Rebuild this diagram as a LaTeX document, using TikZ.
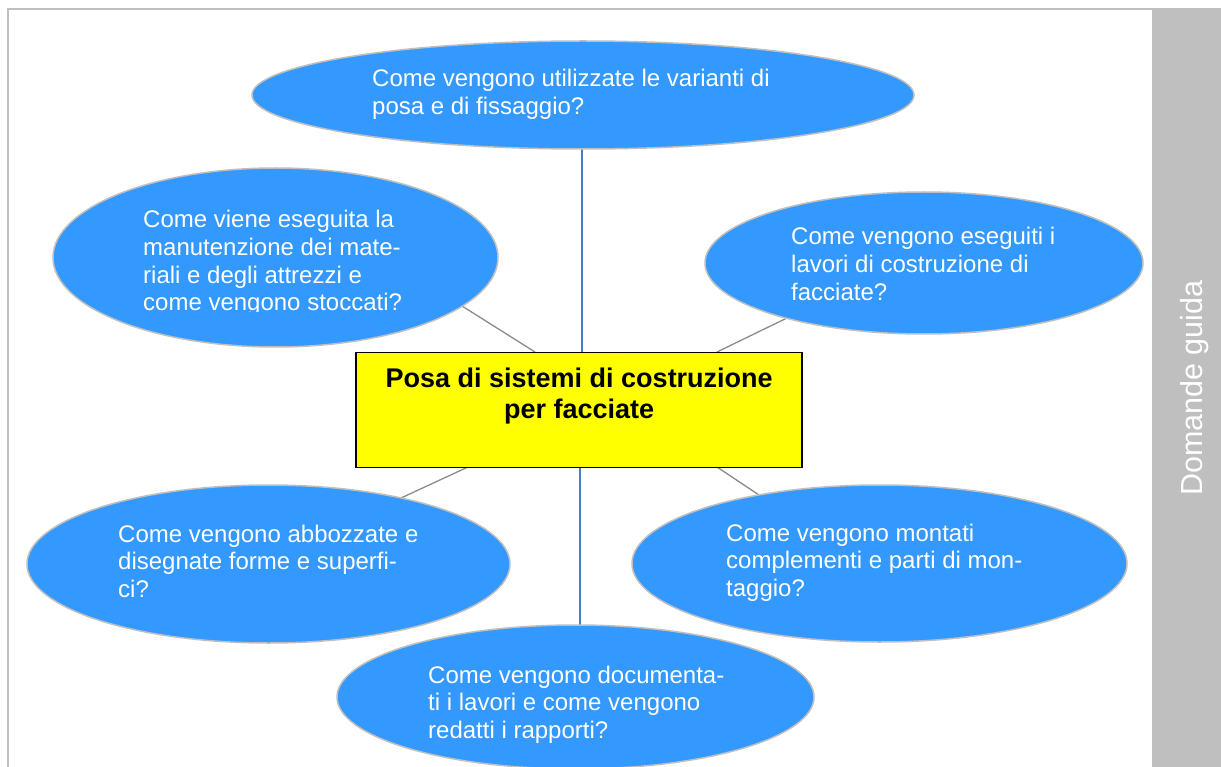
\documentclass[tikz,border=0pt]{standalone}
\usepackage{fontspec}
\setmainfont{Liberation Sans}
\usetikzlibrary{shapes.geometric}
\definecolor{ellfill}{HTML}{3399FF}
\definecolor{ellline}{HTML}{BFBFBF}
\definecolor{framegray}{HTML}{BFBFBF}
\definecolor{vline}{HTML}{4A7EBB}
\definecolor{dline}{HTML}{8C8C8C}
\definecolor{yel}{HTML}{FFFF00}
\newcommand\qlines[1]{\vtop{\baselineskip=27.6pt\lineskiplimit=-20pt #1}}
\begin{document}
\begin{tikzpicture}[x=1pt,y=-1pt,
  qell/.style={ellipse,draw=ellline,line width=1.5pt,fill=ellfill,inner sep=0pt},
  qtext/.style={anchor=base west,inner sep=0pt,text=white,font=\fontsize{24}{27.6}\selectfont},
  vconn/.style={draw=vline,line width=1.3pt},
  dconn/.style={draw=dline,line width=1.3pt},
  mainbox/.style={rectangle,draw=black,line width=1.5pt,fill=yel,inner sep=0pt}]
\useasboundingbox (0,0) rectangle (1221,767);
\fill[white] (0,0) rectangle (1221,767);
% frame and side bar
\draw[framegray,line width=2.2pt] (1152,9) -- (8,9) -- (8,767);
\fill[framegray] (1152,8) rectangle (1221,767);
\node[anchor=base,rotate=90,text=white,inner sep=0pt,font=\fontsize{30.5}{34}\selectfont] (side) at (1202,388) {Domande guida};
% connector coordinates
\coordinate (vt1) at (582,149);
\coordinate (vt2) at (582,353);
\coordinate (vb1) at (580,467);
\coordinate (vb2) at (580,626);
\coordinate (ul1) at (535,352);
\coordinate (ul2) at (462,306);
\coordinate (ur1) at (717,352);
\coordinate (ur2) at (789,317);
\coordinate (ll1) at (468,467);
\coordinate (ll2) at (401,498);
\coordinate (lr1) at (717,467);
\coordinate (lr2) at (759,495);
\draw[vconn] (vt1) -- (vt2);
\draw[vconn] (vb1) -- (vb2);
\draw[dconn] (ul1) -- (ul2);
\draw[dconn] (ur1) -- (ur2);
\draw[dconn] (ll1) -- (ll2);
\draw[dconn] (lr1) -- (lr2);
% ellipses
\node[qell,minimum width=662pt,minimum height=108pt] (e1) at (583,95) {};
\node[qell,minimum width=445pt,minimum height=179pt] (e2) at (275.5,257.5) {};
\node[qell,minimum width=438pt,minimum height=142pt] (e3) at (924,263) {};
\node[qell,minimum width=483pt,minimum height=158pt] (e4) at (268.5,564) {};
\node[qell,minimum width=495pt,minimum height=157pt] (e5) at (879.5,563.5) {};
\node[qell,minimum width=477pt,minimum height=144pt] (e6) at (575.5,697) {};
% central box
\node[mainbox,minimum width=446pt,minimum height=115pt] (box) at (579,410) {};
\node[anchor=base west,inner sep=0pt,font=\bfseries\fontsize{27}{31}\selectfont] (title) at (356,387)
  {\vtop{\baselineskip=31pt\hbox to 446pt{\hfil Posa di sistemi di costruzione\hfil}\hbox to 446pt{\hfil per facciate\hfil}}};
% texts
\node[qtext] (t1) at (372,87) {\qlines{\hbox{Come vengono utilizzate le varianti di}\hbox{posa e di fissaggio?}}};
\begin{scope}
\clip (100,180) rectangle (500,311.5);
\node[qtext] (t2) at (143,228) {\qlines{\hbox{Come viene eseguita la}\hbox{manutenzione dei mate-}\hbox{riali e degli attrezzi e}\hbox{come vengono stoccati?}}};
\end{scope}
\node[qtext] (t3) at (791,245) {\qlines{\hbox{Come vengono eseguiti i}\hbox{lavori di costruzione di}\hbox{facciate?}}};
\node[qtext] (t4) at (118,542) {\qlines{\hbox{Come vengono abbozzate e}\hbox{disegnate forme e superfi-}\hbox{ci?}}};
\node[qtext] (t5) at (726,541) {\qlines{\hbox{Come vengono montati}\hbox{complementi e parti di mon-}\hbox{taggio?}}};
\node[qtext] (t6) at (428,683) {\qlines{\hbox{Come vengono documenta-}\hbox{ti i lavori e come vengono}\hbox{redatti i rapporti?}}};
\end{tikzpicture}
\end{document}
